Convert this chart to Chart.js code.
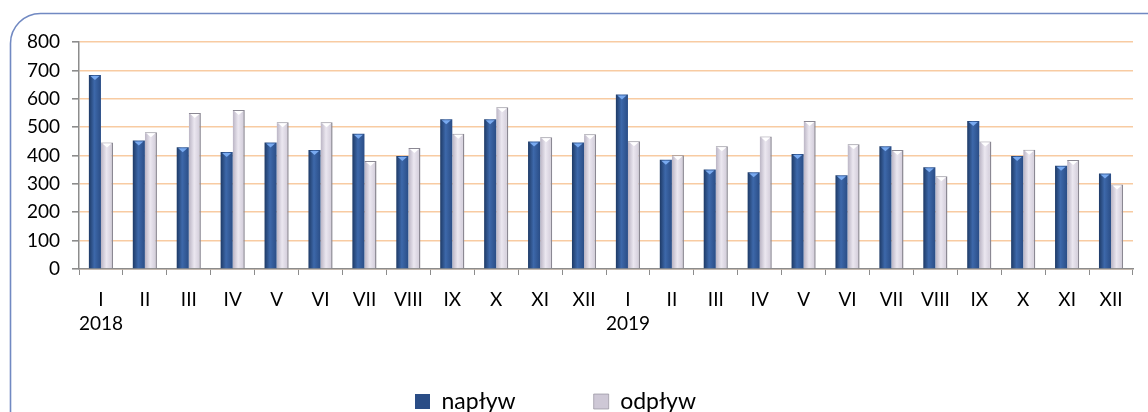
<!DOCTYPE html>
<html>
<head>
<meta charset="utf-8">
<script src="https://cdn.jsdelivr.net/npm/chart.js@4.4.1/dist/chart.umd.min.js"></script>
<style>
  html, body { margin: 0; padding: 0; background: #fff; overflow: hidden; }
  #wrap { width: 1148px; height: 412px; }
</style>
</head>
<body>
<div id="wrap"><canvas id="chart" width="1148" height="412"></canvas></div>
<script>
const months = ['I', 'II', 'III', 'IV', 'V', 'VI', 'VII', 'VIII', 'IX', 'X', 'XI', 'XII'];
const years = ['2018', '2019'];
const naplyw = [684, 453, 429, 412, 446, 419, 477, 398, 528, 528, 449, 446,
                615, 385, 351, 341, 405, 330, 433, 359, 522, 398, 364, 337];
const odplyw = [446, 482, 550, 560, 517, 517, 381, 426, 477, 570, 464, 475,
                450, 401, 433, 467, 522, 440, 419, 327, 449, 420, 384, 298];
const yTicks = [0, 100, 200, 300, 400, 500, 600, 700, 800];

// month labels, year under every January
const labels = [];
years.forEach(y => months.forEach((m, i) => labels.push(i === 0 ? [m, y] : m)));

const FONT = 'Lato, "Open Sans", sans-serif';
const shades = [
  ['#1e3a66', '#3d68aa', '#2a4d86', '#305a9a'],
  ['#b9b3c3', '#ebe7f0', '#cec8d6', '#ddd8e4']
];

// horizontal shading across each bar, positions taken from the x scale
function barFill(c) {
  const s = shades[c.datasetIndex];
  const sx = c.chart.scales && c.chart.scales.x;
  if (c.dataIndex === undefined || !sx || !sx.width) return s[3];
  const cx = sx.getPixelForValue(c.dataIndex);
  const w = sx.width / labels.length * 0.55 / 2;
  const left = c.datasetIndex === 0 ? cx - w : cx;
  const g = c.chart.ctx.createLinearGradient(left, 0, left + w, 0);
  g.addColorStop(0, s[0]);
  g.addColorStop(0.45, s[1]);
  g.addColorStop(1, s[2]);
  return g;
}

const framePlugin = {
  id: 'frame',
  beforeDraw(chart) {
    const c = chart.ctx;
    c.save();
    c.fillStyle = '#fff';
    c.fillRect(0, 0, chart.width, chart.height);
    c.beginPath();
    c.roundRect(10.5, 13.5, 1200, 500, 30);
    c.strokeStyle = '#7189c2';
    c.lineWidth = 1.6;
    c.stroke();
    c.restore();
  },
  afterLayout(chart) {
    // legend sits a little left of centre and higher than its box
    const lg = chart.legend;
    lg.left -= 11;
    lg.right -= 11;
    lg.top -= 30;
  },
  afterDatasetsDraw(chart) {
    // bevel triangle on top of each bar
    const c = chart.ctx;
    const tops = ['#79aaf0', '#ffffff'];
    chart.data.datasets.forEach((ds, di) => {
      chart.getDatasetMeta(di).data.forEach(bar => {
        const w = bar.width;
        c.save();
        c.beginPath();
        c.moveTo(bar.x - w / 2 + 1.5, bar.y + 1);
        c.lineTo(bar.x + w / 2 - 1.5, bar.y + 1);
        c.lineTo(bar.x, bar.y + 5);
        c.closePath();
        c.fillStyle = tops[di];
        c.fill();
        c.restore();
      });
    });
  }
};

new Chart(document.getElementById('chart'), {
  type: 'bar',
  data: {
    labels: labels,
    datasets: [
      { label: 'napływ', data: naplyw, backgroundColor: barFill,
        borderColor: '#24467c', borderWidth: 0 },
      { label: 'odpływ', data: odplyw, backgroundColor: barFill,
        borderColor: '#8b8893', borderWidth: { top: 1, right: 1.5, left: 0, bottom: 0 } }
    ]
  },
  options: {
    responsive: false,
    animation: false,
    datasets: { bar: { categoryPercentage: 0.55, barPercentage: 1 } },
    layout: { padding: { left: 0, right: 15, top: 42, bottom: 0 } },
    plugins: {
      tooltip: { enabled: false },
      legend: {
        position: 'bottom',
        maxHeight: 70,
        labels: {
          boxWidth: 15, boxHeight: 15, padding: 78,
          color: '#000', font: { family: FONT, size: 23 }
        }
      }
    },
    scales: {
      x: {
        grid: { drawOnChartArea: false, drawTicks: true, tickLength: 6, tickColor: '#8c8c8c', offset: true },
        border: { color: '#8c8c8c', width: 1.5 },
        ticks: { color: '#000', font: { family: FONT, size: 19, lineHeight: 1.26 }, padding: 13, maxRotation: 0, autoSkip: false },
        afterFit(s) { s.height = 73; }
      },
      y: {
        min: 0, max: 800,
        afterBuildTicks(s) { s.ticks = yTicks.map(v => ({ value: v })); },
        grid: { color: '#f8cba2', lineWidth: 1.6, tickLength: 7, tickColor: '#8c8c8c' },
        border: { color: '#8c8c8c', width: 1.5 },
        ticks: { color: '#000', font: { family: FONT, size: 19 }, padding: 12 },
        afterFit(s) { s.width = 79; }
      }
    }
  },
  plugins: [framePlugin]
});
</script>
</body>
</html>
